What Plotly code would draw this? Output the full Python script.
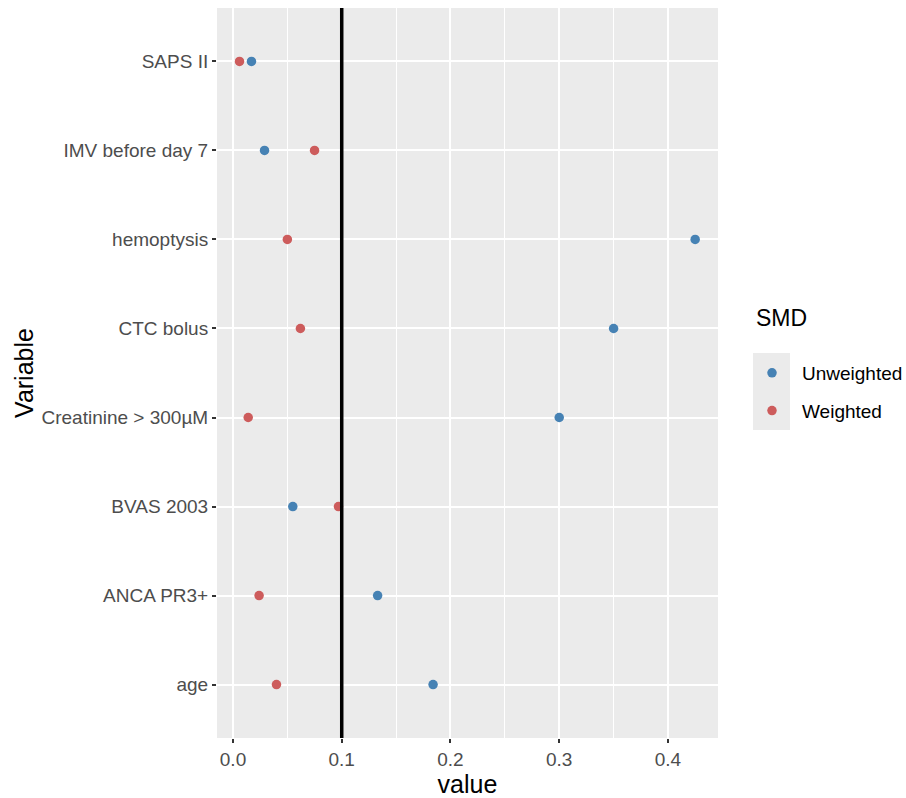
import plotly.graph_objects as go

variables = ["age", "ANCA PR3+", "BVAS 2003", "Creatinine > 300µM",
             "CTC bolus", "hemoptysis", "IMV before day 7", "SAPS II"]
unweighted = [0.184, 0.133, 0.055, 0.300, 0.350, 0.425, 0.029, 0.017]
weighted = [0.040, 0.024, 0.097, 0.014, 0.062, 0.050, 0.075, 0.006]
threshold = 0.1
x_ticks = [0.0, 0.1, 0.2, 0.3, 0.4]
x_tick_labels = ["0.0", "0.1", "0.2", "0.3", "0.4"]

FONT = "Liberation Sans, Arial, sans-serif"
BLUE = "#4682B4"
RED = "#CD5C5C"

W, H = 906, 798
L, R, T, B = 217, 188, 8, 60
PW, PH = W - L - R, H - T - B


def px(x):
    return (x - L) / PW


def py(y):
    return (H - B - y) / PH


fig = go.Figure()
fig.add_trace(go.Scatter(x=unweighted, y=variables, mode="markers", name="Unweighted",
                         legendgroup="u", marker=dict(color=BLUE, size=9.5)))
fig.add_trace(go.Scatter(x=weighted, y=variables, mode="markers", name="Weighted",
                         legendgroup="w", marker=dict(color=RED, size=9.5)))

fig.add_shape(type="line", xref="x", yref="paper", x0=threshold, x1=threshold, y0=0, y1=1,
              line=dict(color="black", width=3.5), layer="above")

# legend key background
fig.add_shape(type="rect", xref="paper", yref="paper",
              x0=px(753), x1=px(790), y0=py(430), y1=py(353),
              fillcolor="#EBEBEB", line=dict(width=0), layer="below")

fig.add_annotation(text="SMD", xref="paper", yref="paper", x=px(754), y=py(318),
                   xanchor="left", yanchor="middle", showarrow=False,
                   font=dict(size=23, color="black", family=FONT))

fig.update_layout(
    width=W, height=H,
    margin=dict(l=L, r=R, t=T, b=B, autoexpand=False),
    paper_bgcolor="white", plot_bgcolor="#EBEBEB",
    font=dict(family=FONT, size=19, color="#4D4D4D"),
    showlegend=True,
    legend=dict(
        font=dict(size=19, color="black", family=FONT),
        xref="container", yref="container",
        x=742 / W, xanchor="left",
        y=1 - 354 / H, yanchor="top",
        bgcolor="rgba(0,0,0,0)", tracegroupgap=10,
        itemwidth=50, borderwidth=0,
    ),
)

fig.update_xaxes(
    range=[-0.0147, 0.446],
    tickvals=x_ticks, ticktext=x_tick_labels,
    showgrid=True, gridcolor="white", gridwidth=1.8,
    minor=dict(dtick=0.05, tick0=0, showgrid=True, gridcolor="white", gridwidth=0.8),
    ticks="outside", ticklen=4, tickwidth=1.5, tickcolor="#333333",
    tickfont=dict(size=19, color="#4D4D4D", family=FONT),
    zeroline=False, showline=False,
    title=dict(text="value", font=dict(size=25, color="black", family=FONT), standoff=2),
)
fig.update_yaxes(
    categoryorder="array", categoryarray=variables,
    range=[-0.6, len(variables) - 0.4],
    showgrid=True, gridcolor="white", gridwidth=1.8,
    ticks="outside", ticklen=4, tickwidth=1.5, tickcolor="#333333",
    tickfont=dict(size=19, color="#4D4D4D", family=FONT),
    zeroline=False, showline=False,
    title=dict(text="Variable", font=dict(size=25, color="black", family=FONT), standoff=0),
)

fig.write_html("out.html")
